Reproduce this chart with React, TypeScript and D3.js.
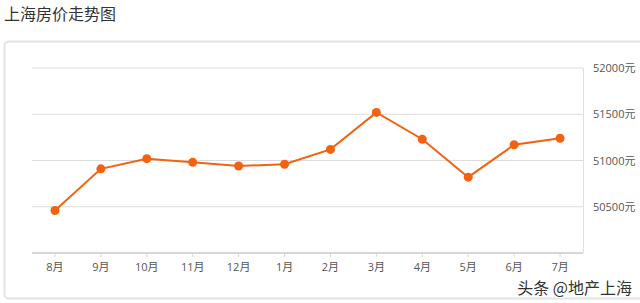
import React from "react";
import * as d3 from "d3";

const months = ["8月", "9月", "10月", "11月", "12月", "1月", "2月", "3月", "4月", "5月", "6月", "7月"];
const prices = [50460, 50910, 51020, 50980, 50940, 50960, 51120, 51520, 51230, 50820, 51170, 51240];
const yTicks = [50500, 51000, 51500, 52000];

const W = 640;
const H = 303;
const left = 32;
const right = 583;
const top = 68;
const bottom = 253;

export default function App() {
  const x = d3.scaleBand<string>().domain(months).range([left, right]);
  const y = d3.scaleLinear().domain([50000, 52000]).range([bottom, top]);
  const cx = (m: string) => (x(m) ?? 0) + x.bandwidth() / 2;
  const line = d3
    .line<number>()
    .x((_, i) => cx(months[i]))
    .y((d) => y(d));
  const font = "'Open Sans', 'Noto Sans CJK SC', sans-serif";
  return (
    <svg
      width={W}
      height={H}
      style={{ position: "absolute", left: 0, top: 0, background: "#fff" }}
      fontFamily={font}
    >
      <text x={4} y={20} fontSize={16} fill="#333" fontFamily="'Noto Sans CJK SC', sans-serif">
        上海房价走势图
      </text>
      <rect x={4.5} y={41.5} width={660} height={257} rx={4} fill="#fff" stroke="#e3e3e3" strokeWidth={2} />
      {yTicks.map((t) => (
        <g key={t}>
          <line x1={left} x2={right} y1={y(t)} y2={y(t)} stroke="#dcdcdc" strokeWidth={1} />
          <text x={593} y={y(t) + 4} fontSize={11} fill="#555">
            {t}元
          </text>
        </g>
      ))}
      <line x1={right + 0.5} x2={right + 0.5} y1={top} y2={bottom} stroke="#e0e0e0" strokeWidth={1} />
      <line x1={left} x2={right} y1={bottom} y2={bottom} stroke="#d6d6d6" strokeWidth={2} />
      {months.map((m) => (
        <g key={m}>
          <line x1={cx(m)} x2={cx(m)} y1={bottom} y2={bottom + 4} stroke="#d6d6d6" strokeWidth={1} />
          <text x={cx(m)} y={bottom + 18} fontSize={11} fill="#555" textAnchor="middle">
            {m}
          </text>
        </g>
      ))}
      <path d={line(prices) ?? ""} fill="none" stroke="#f4620f" strokeWidth={2} />
      {prices.map((p, i) => (
        <circle key={i} cx={cx(months[i])} cy={y(p)} r={4.5} fill="#f4620f" />
      ))}
      <text
        x={632}
        y={294}
        fontSize={16}
        fill="#333"
        textAnchor="end"
        stroke="#fff"
        strokeWidth={2}
        paintOrder="stroke"
        fontFamily="'Noto Sans CJK SC', sans-serif"
      >
        头条 @地产上海
      </text>
    </svg>
  );
}
